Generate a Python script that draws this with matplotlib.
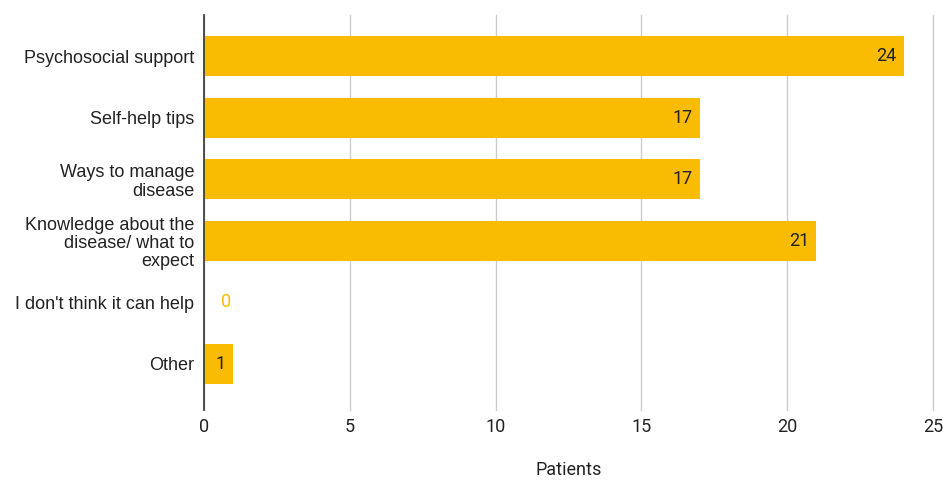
import matplotlib
matplotlib.use("Agg")
import matplotlib.pyplot as plt

categories = [
    "Psychosocial support",
    "Self-help tips",
    "Ways to manage\ndisease",
    "Knowledge about the\ndisease/ what to\nexpect",
    "I don't think it can help",
    "Other",
]
patients = [24, 17, 17, 21, 0, 1]
x_ticks = [0, 5, 10, 15, 20, 25]

BAR_COLOR = "#F9BC02"
TEXT_COLOR = "#222222"

fig = plt.figure(figsize=(9.43, 4.8), dpi=100)
ax = fig.add_axes([204 / 943, 1 - 410 / 480, 729 / 943, 395 / 480])

pos = list(range(len(categories)))
ax.barh(pos, patients, height=0.65, color=BAR_COLOR, zorder=3)

# value labels: inside bar end, or outside in yellow when bar is empty
for y, v in zip(pos, patients):
    if v > 0:
        ax.text(v - 0.25, y, str(v), ha="right", va="center", fontsize=13,
                family="Roboto", color=TEXT_COLOR, zorder=4)
    else:
        ax.text(v + 0.6, y, str(v), ha="left", va="center", fontsize=13,
                family="Roboto", color=BAR_COLOR, zorder=4)

ax.set_xlim(0, 25)
ax.set_ylim(5.75, -0.67)
ax.set_xticks(x_ticks)
ax.set_xticklabels([str(t) for t in x_ticks], family="Roboto", fontsize=13,
                   color=TEXT_COLOR)
ax.set_yticks(pos)
ax.set_yticklabels(categories, family="Liberation Sans", fontsize=13,
                   color=TEXT_COLOR, linespacing=1.1)
ax.tick_params(axis="both", length=0)
ax.tick_params(axis="x", pad=6)
ax.tick_params(axis="y", pad=7)

ax.grid(axis="x", color="#cccccc", linewidth=1, zorder=0)
for gl in ax.get_xgridlines():
    gl.set_clip_on(False)
for s in ["top", "right", "bottom"]:
    ax.spines[s].set_visible(False)
ax.spines["left"].set_color("#333333")
ax.spines["left"].set_linewidth(1.2)
ax.spines["left"].set_zorder(5)

ax.set_xlabel("Patients", family="Roboto", fontsize=13, color=TEXT_COLOR,
              labelpad=18)

fig.savefig("out.png", dpi=100)
